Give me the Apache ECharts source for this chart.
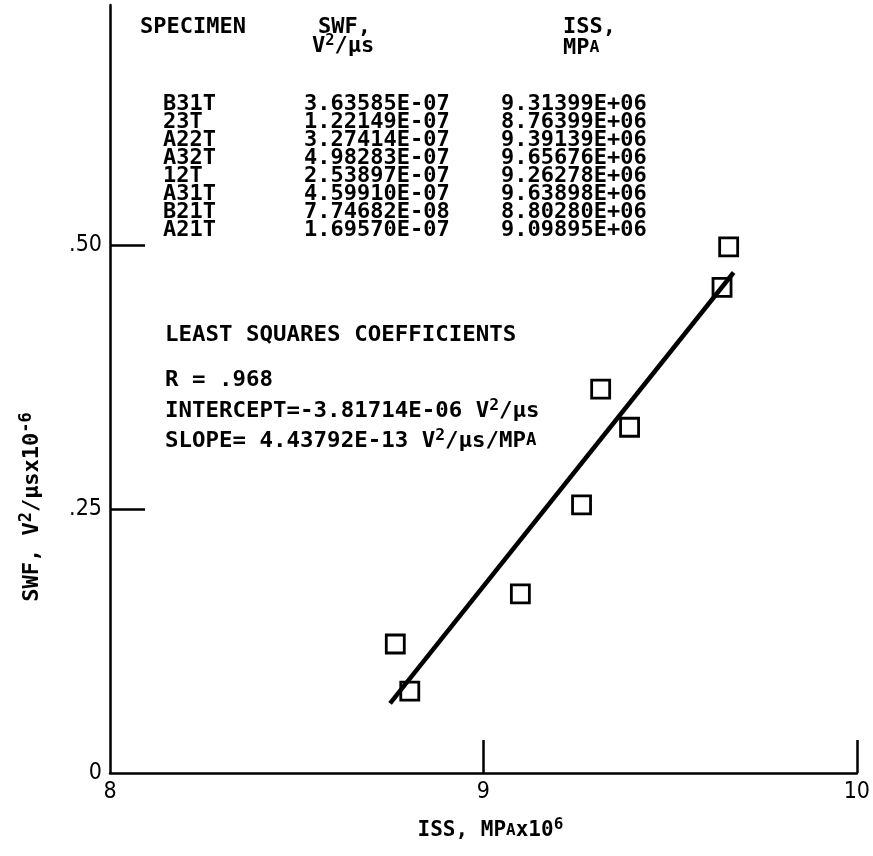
<!DOCTYPE html>
<html>
<head>
<meta charset="utf-8">
<script src="https://cdn.jsdelivr.net/npm/echarts@6/dist/echarts.min.js"></script>
<style>
html,body{margin:0;padding:0;background:#fff;}
#chart{width:873px;height:856px;}
</style>
</head>
<body>
<div id="chart"></div>
<script>
// ---- data ----
var specimens = ['B31T','23T','A22T','A32T','12T','A31T','B21T','A21T'];
var swfValues = [3.63585e-7,1.22149e-7,3.27414e-7,4.98283e-7,2.53897e-7,4.59910e-7,7.74682e-8,1.69570e-7]; // V^2/us
var issValues = [9.31399e6,8.76399e6,9.39139e6,9.65676e6,9.26278e6,9.63898e6,8.80280e6,9.09895e6]; // MPa
var fitX = [8.75, 9.67];      // fitted line ends, MPa x10^6
var fitY = [0.066, 0.474];    // fitted line ends, V^2/us x10^-6
var rValue = '.968';
var interceptText = '-3.81714E-06';
var slopeText = '4.43792E-13';
var xTicks = [8, 9, 10];
var yTicks = [0, 0.25, 0.5];

function fmtE(v){
  var s = v.toExponential(5).toUpperCase();
  return s.replace(/E([+-])(\d)$/, 'E$10$2');
}

var points = specimens.map(function(n,i){ return [issValues[i]/1e6, swfValues[i]*1e6]; });

var MONO = '"DejaVu Sans Mono", monospace';
var COND = '"DejaVu Sans Condensed", "DejaVu Sans", sans-serif';

function richFor(size){
  return {
    sup:{fontFamily:MONO, fontSize:Math.round(size*0.72), lineHeight:Math.round(size*0.72), verticalAlign:'top', fill:'#000', color:'#000', fontWeight:'bold'},
    s:{fontFamily:MONO, fontSize:Math.round(size*0.75), fill:'#000', color:'#000', fontWeight:'bold'}
  };
}

function txt(x, y, text, size, sx, sy){
  var st = {text:text, fontFamily:MONO, fontSize:size, fontWeight:'bold', fill:'#000',
            lineHeight:size+4,
            align:'left', verticalAlign:'middle', textAlign:'left', textVerticalAlign:'middle',
            rich:richFor(size)};
  return {type:'text', x:x, y:y, scaleX:sx, scaleY:sy || 1, style:st, z:10};
}

var graphics = [];
var TS = 20, TSX = 1.1, TSY = 1.07;
graphics.push(txt(140, 27, 'SPECIMEN', TS, TSX, TSY));
graphics.push(txt(318, 27, 'SWF,', TS, TSX, TSY));
graphics.push(txt(312, 46, 'V{sup|2}/µs', TS, TSX, TSY));
graphics.push(txt(563, 27, 'ISS,', TS, TSX, TSY));
graphics.push(txt(563, 48, 'MP{s|A}', TS, TSX, TSY));
specimens.forEach(function(n,i){
  var y = 104 + 18.1*i;
  graphics.push(txt(163, y, n, TS, TSX, TSY));
  graphics.push(txt(304, y, fmtE(swfValues[i]), TS, TSX, TSY));
  graphics.push(txt(501, y, fmtE(issValues[i]), TS, TSX, TSY));
});
var LS = 22, LSX = 1.02;
graphics.push(txt(165, 335, 'LEAST SQUARES COEFFICIENTS', LS, LSX));
graphics.push(txt(165, 380, 'R = ' + rValue, LS, LSX));
graphics.push(txt(165, 411, 'INTERCEPT=' + interceptText + ' V{sup|2}/µs', LS, LSX));
graphics.push(txt(165, 441, 'SLOPE= ' + slopeText + ' V{sup|2}/µs/MP{s|A}', LS, LSX));

function nameRich(fs){
  return {
    n:{fontFamily:MONO, fontSize:fs, fontWeight:'bold', color:'#000', lineHeight:fs+6, verticalAlign:'middle'},
    sup:{fontFamily:MONO, fontSize:Math.round(fs*0.75), fontWeight:'bold', color:'#000', lineHeight:Math.round(fs*0.75), verticalAlign:'top'},
    s:{fontFamily:MONO, fontSize:Math.round(fs*0.75), fontWeight:'bold', color:'#000', lineHeight:fs+6, verticalAlign:'middle'}
  };
}

var chart = echarts.init(document.getElementById('chart'), null, {renderer:'canvas'});
chart.setOption({
  animation:false,
  backgroundColor:'#fff',
  grid:{left:110, right:12, top:5, bottom:83, containLabel:false},
  xAxis:{
    type:'value', min:8, max:10, interval:1,
    name:'{n|ISS, MP}{s|A}{n|x10}{sup|6}', nameLocation:'middle', nameGap:44,
    nameTextStyle:{fontFamily:MONO, fontSize:21, color:'#000', rich:nameRich(21), padding:[0,0,0,14]},
    axisLine:{show:true, lineStyle:{color:'#000', width:2.5}},
    axisTick:{show:true, inside:true, length:33, lineStyle:{color:'#000', width:2.5}, customValues:[9,10]},
    axisLabel:{show:true, fontFamily:COND, fontSize:23, color:'#000', margin:8, customValues:xTicks,
      formatter:function(v){return String(v);}},
    splitLine:{show:false}
  },
  yAxis:{
    type:'value', min:0, max:0.7273, interval:0.25,
    name:'{n|SWF, V}{sup|2}{n|/µsx10}{sup|-6}', nameLocation:'middle', nameGap:64, nameRotate:90,
    nameTextStyle:{fontFamily:MONO, fontSize:22, color:'#000', rich:nameRich(22), padding:[0,236,0,0]},
    axisLine:{show:true, lineStyle:{color:'#000', width:2.5}},
    axisTick:{show:true, inside:true, length:35, lineStyle:{color:'#000', width:2.5}, customValues:[0.25,0.5]},
    axisLabel:{show:true, fontFamily:COND, fontSize:23, color:'#000', margin:8, customValues:yTicks,
      formatter:function(v){ return v === 0 ? '0' : '.' + String(Math.round(v*100)); }},
    splitLine:{show:false}
  },
  graphic:graphics,
  series:[
    {type:'line', data:[[fitX[0],fitY[0]],[fitX[1],fitY[1]]], symbol:'none',
     lineStyle:{color:'#000', width:4.5}, z:3},
    {type:'scatter', data:points, symbol:'rect', symbolSize:18,
     itemStyle:{color:'rgba(0,0,0,0)', borderColor:'#000', borderWidth:2.8, opacity:1}, z:4}
  ]
});
</script>
</body>
</html>
